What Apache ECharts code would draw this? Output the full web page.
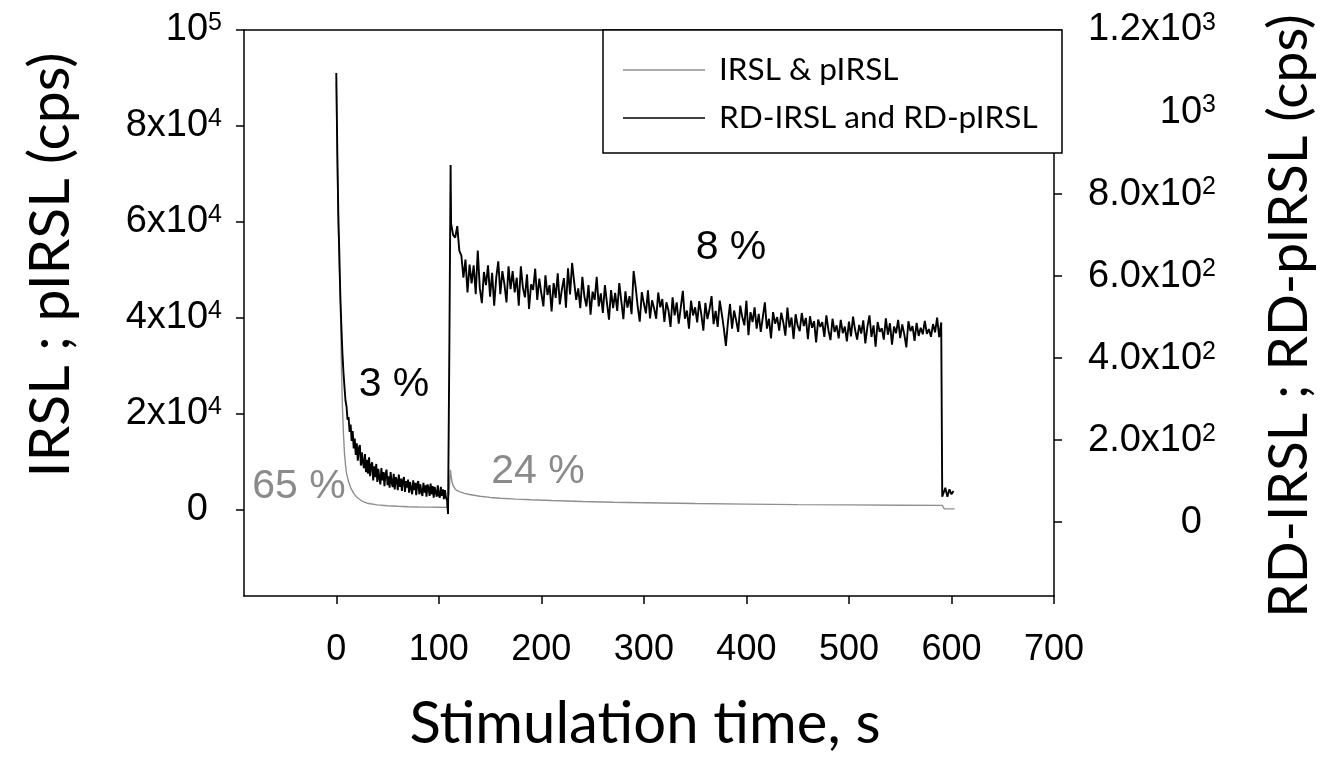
<!DOCTYPE html>
<html>
<head>
<meta charset="utf-8">
<script src="https://cdn.jsdelivr.net/npm/echarts/dist/echarts.min.js"></script>
<style>
html,body{margin:0;padding:0;background:#fff;}
#chart{width:1323px;height:761px;}
</style>
</head>
<body>
<div id="chart"></div>
<script>
// ---------- DATA ----------
// IRSL & pIRSL (left axis, cps) – smooth grey curve
const irslTimes  = [0, 1, 2, 3, 4, 5, 6, 7, 8, 9, 10, 12, 14, 17, 20, 25, 30, 40, 50, 60, 70, 80, 90, 100, 108,
                    109, 110, 111.3, 112, 113, 114, 116, 118, 120, 125, 130, 140, 150, 160, 175, 190, 210, 240, 270,
                    300, 350, 400, 450, 500, 550, 591, 593, 600, 603];
const irslValues = [89000, 72000, 59000, 50000, 43000, 30000, 21500, 15800, 11800, 9300, 7600, 5800, 4600, 3400, 2600, 1800, 1350, 1000, 820, 700, 620, 560, 520, 490, 470,
                    150, 3500, 8300, 7000, 5700, 5000, 4300, 3950, 3750, 3400, 3150, 2800, 2550, 2380, 2200, 2060, 1900, 1700, 1550,
                    1430, 1270, 1150, 1060, 990, 930, 900, 180, 170, 160];

// RD-IRSL and RD-pIRSL (right axis, cps) – noisy black curve
const rdFirstStart = 0, rdFirstStep = 1;
const rdFirstValues = [
  1095, 905, 748, 652, 548, 476, 412, 365, 330, 296,
  282, 250, 256, 220, 238, 198, 222, 180, 204, 164,
  192, 150, 180, 188, 138, 170, 146, 132, 166, 122,
  152, 118, 158, 112, 140, 146, 102, 136, 110, 142,
  98, 130, 108, 92, 132, 102, 122, 88, 118, 128,
  90, 112, 84, 122, 96, 86, 118, 80, 110, 102,
  78, 116, 86, 106, 76, 102, 110, 74, 100, 84,
  104, 72, 98, 82, 68, 102, 78, 96, 66, 94,
  100, 68, 92, 74, 64, 96, 72, 90, 62, 92,
  84, 64, 94, 68, 88, 60, 86, 72, 62, 90,
  66, 60, 86, 64, 80, 56, 78, 60, 54];
const rdJumpTimes  = [109, 110.3, 111.5];
const rdJumpValues = [20, 430, 871];
const rdSecondStart = 112, rdSecondStep = 2;
const rdSecondValues = [
  728, 700, 694, 722, 662, 650, 596, 640, 560, 628,
  582, 626, 556, 662, 570, 534, 610, 578, 626, 550,
  608, 528, 596, 636, 556, 612, 580, 536, 624, 568,
  612, 560, 596, 528, 624, 572, 548, 604, 520, 580,
  566, 618, 542, 594, 558, 526, 602, 554, 578, 514,
  583, 547, 607, 531, 567, 595, 523, 619, 555, 632,
  586, 542, 570, 522, 598, 550, 526, 578, 506, 562,
  542, 598, 526, 558, 510, 578, 534, 494, 566, 522,
  559, 515, 583, 539, 495, 563, 523, 551, 507, 612,
  573, 525, 489, 561, 533, 509, 565, 497, 541, 521,
  496, 560, 524, 544, 488, 536, 516, 476, 548, 504,
  536, 484, 524, 564, 496, 516, 472, 540, 504, 524,
  487, 539, 507, 467, 535, 495, 519, 551, 483, 515,
  476, 540, 508, 472, 430, 488, 532, 472, 516, 492,
  464, 528, 500, 480, 540, 456, 512, 488, 524, 472,
  508, 464, 500, 536, 472, 496, 448, 512, 484, 500,
  467, 511, 487, 455, 523, 475, 499, 447, 507, 479,
  466, 510, 478, 498, 446, 502, 474, 490, 438, 494,
  476, 488, 452, 504, 468, 444, 496, 464, 480, 448,
  493, 461, 477, 441, 489, 453, 501, 469, 445, 481,
  460, 492, 436, 476, 504, 452, 480, 428, 488, 464,
  473, 445, 497, 457, 485, 433, 477, 461, 493, 449,
  482, 458, 426, 490, 466, 478, 442, 486, 454, 474,
  458, 491, 459, 471, 452, 483, 463, 499, 451, 487];
const rdTailTimes  = [591, 592, 594, 596, 598, 600, 602];
const rdTailValues = [62, 58, 84, 62, 80, 68, 76];

// Tick labels
const xTicks = [0, 100, 200, 300, 400, 500, 600, 700];
const leftTicks = [0, 20000, 40000, 60000, 80000, 100000];
const leftTickLabels = [['0', ''], ['2x10', '4'], ['4x10', '4'], ['6x10', '4'], ['8x10', '4'], ['10', '5']];
const rightTicks = [0, 200, 400, 600, 800, 1000, 1200];
const rightTickLabels = [['0', ''], ['2.0x10', '2'], ['4.0x10', '2'], ['6.0x10', '2'], ['8.0x10', '2'], ['10', '3'], ['1.2x10', '3']];

const seriesNames = ['IRSL & pIRSL', 'RD-IRSL and RD-pIRSL'];
const annotations = [
  {text: '65 %', color: '#8a8a8a', x: 299, y: 487},
  {text: '3 %',  color: '#000000', x: 394, y: 385},
  {text: '24 %', color: '#8a8a8a', x: 538, y: 472},
  {text: '8 %',  color: '#000000', x: 731, y: 248}
];

// ---------- BUILD ----------
const irslData = irslTimes.map((t, i) => [t, irslValues[i]]);
const rdData = [];
rdFirstValues.forEach((v, i) => rdData.push([rdFirstStart + i * rdFirstStep, v]));
rdJumpValues.forEach((v, i) => rdData.push([rdJumpTimes[i], v]));
rdSecondValues.forEach((v, i) => rdData.push([rdSecondStart + i * rdSecondStep, v]));
rdTailValues.forEach((v, i) => rdData.push([rdTailTimes[i], v]));

function supLabel(pairs, ticks) {
  return function (val) {
    const idx = ticks.indexOf(Math.round(val));
    if (idx < 0) return '';
    const p = pairs[idx];
    if (p[1] === '') return '{b|' + p[0] + '}{sp| }';
    return '{b|' + p[0] + '}{s|' + p[1] + '}';
  };
}
const tickFont = 'Liberation Sans, Arial, sans-serif';
const richLabels = {
  b: {fontSize: 38, fontFamily: tickFont, color: '#000'},
  s: {fontSize: 25, fontFamily: tickFont, color: '#000', verticalAlign: 'top'},
  sp: {fontSize: 25, fontFamily: tickFont, width: 14}
};

const chart = echarts.init(document.getElementById('chart'), null, {renderer: 'canvas'});
const option = {
  animation: false,
  backgroundColor: '#fff',
  grid: {left: 244, right: 269, top: 30, bottom: 165, containLabel: false},
  legend: {
    data: seriesNames,
    orient: 'vertical',
    left: 618, top: 48,
    itemWidth: 82, itemHeight: 14, itemGap: 14,
    icon: 'path://M0,6 L82,6 L82,7.5 L0,7.5 Z',
    textStyle: {fontFamily: 'Lato, sans-serif', fontSize: 31.5, color: '#000', lineHeight: 34, padding: [0, 0, 0, 9]},
    z: 20
  },
  xAxis: [{
    type: 'value', min: -90, max: 700, position: 'bottom',
    axisLine: {show: true, onZero: false, lineStyle: {color: '#000', width: 1.5}},
    axisTick: {show: true, inside: false, length: 8, customValues: xTicks, lineStyle: {color: '#000', width: 1.5}},
    axisLabel: {customValues: xTicks, margin: 36, fontFamily: 'Liberation Sans Narrow, Arial Narrow, sans-serif', fontSize: 36, color: '#000'},
    splitLine: {show: false}
  }, {
    type: 'value', min: -90, max: 700, position: 'top',
    axisLine: {show: true, onZero: false, lineStyle: {color: '#000', width: 1.5}},
    axisTick: {show: false}, axisLabel: {show: false}, splitLine: {show: false}
  }],
  yAxis: [{
    type: 'value', min: -18000, max: 100000, position: 'left',
    axisLine: {show: true, onZero: false, lineStyle: {color: '#000', width: 1.5}},
    axisTick: {show: true, length: 8, customValues: leftTicks, lineStyle: {color: '#000', width: 1.5}},
    axisLabel: {customValues: leftTicks, margin: 22, formatter: supLabel(leftTickLabels, leftTicks), rich: richLabels},
    splitLine: {show: false}
  }, {
    type: 'value', min: -180, max: 1200, position: 'right',
    axisLine: {show: true, onZero: false, lineStyle: {color: '#000', width: 1.5}},
    axisTick: {show: true, length: 8, customValues: rightTicks, lineStyle: {color: '#000', width: 1.5}},
    axisLabel: {customValues: rightTicks, margin: 162, align: 'right', formatter: supLabel(rightTickLabels, rightTicks), rich: richLabels},
    splitLine: {show: false}
  }],
  series: [{
    name: seriesNames[0], type: 'line', xAxisIndex: 0, yAxisIndex: 0,
    data: irslData, showSymbol: false, symbol: 'none',
    lineStyle: {color: '#8f8f8f', width: 1.4}, itemStyle: {color: '#8f8f8f'}, z: 3
  }, {
    name: seriesNames[1], type: 'line', xAxisIndex: 0, yAxisIndex: 1,
    data: rdData, showSymbol: false, symbol: 'none',
    lineStyle: {color: '#000', width: 1.9}, itemStyle: {color: '#000'}, z: 4
  }],
  graphic: [
    {type: 'rect', shape: {x: 603, y: 30, width: 459, height: 123}, style: {fill: '#fff', stroke: '#000', lineWidth: 1.5}, z: 10, silent: true},
    {type: 'text', x: 645, y: 724, style: {text: 'Stimulation time, s', font: '58px Lato, sans-serif', fill: '#000', align: 'center', verticalAlign: 'middle'}},
    {type: 'text', x: 51, y: 265, rotation: Math.PI / 2, style: {text: 'IRSL ; pIRSL (cps)', font: '57px Lato, sans-serif', fill: '#000', align: 'center', verticalAlign: 'middle'}},
    {type: 'text', x: 1289, y: 316, rotation: Math.PI / 2, style: {text: 'RD-IRSL ; RD-pIRSL (cps)', font: '55px Lato, sans-serif', fill: '#000', align: 'center', verticalAlign: 'middle'}}
  ].concat(annotations.map(a => ({
    type: 'text', x: a.x, y: a.y, z: 15,
    style: {text: a.text, font: '41px Liberation Sans, Arial, sans-serif', fill: a.color, align: 'center', verticalAlign: 'middle'}
  })))
};
chart.setOption(option);
</script>
</body>
</html>
